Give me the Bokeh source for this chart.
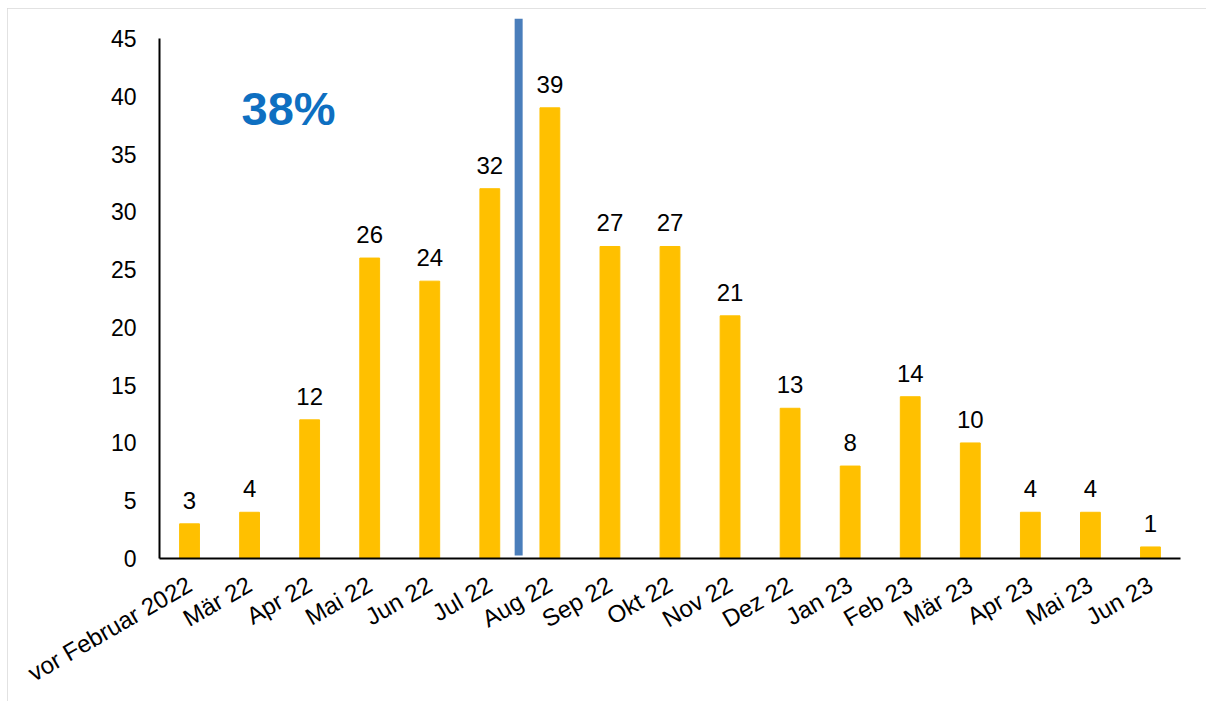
from bokeh.plotting import figure
from bokeh.models import ColumnDataSource, LabelSet, FactorRange, Range1d, SingleIntervalTicker
from bokeh.embed import file_html
from bokeh.resources import INLINE
from bokeh.core.properties import value
import math

categories = ["vor Februar 2022", "Mär 22", "Apr 22", "Mai 22", "Jun 22", "Jul 22",
              "Aug 22", "Sep 22", "Okt 22", "Nov 22", "Dez 22", "Jan 23", "Feb 23",
              "Mär 23", "Apr 23", "Mai 23", "Jun 23"]
counts = [3, 4, 12, 26, 24, 32, 39, 27, 27, 21, 13, 8, 14, 10, 4, 4, 1]
annotation_text = "38%"
split_after = "Jul 22"

FONT = "Liberation Sans"

src = ColumnDataSource(dict(cat=categories, val=counts, lab=[str(v) for v in counts]))

p = figure(x_range=FactorRange(*categories, range_padding=0),
           y_range=Range1d(0, 46.73),
           width=1199, height=693, output_backend="svg", toolbar_location=None,
           min_border_left=152, min_border_right=26, min_border_top=10, min_border_bottom=143)
p.styles = {"margin-left": "7px", "margin-top": "8px",
            "outline": "2px solid #d9d9d9", "outline-offset": "-2px"}
p.outline_line_color = None
p.xgrid.grid_line_color = None
p.ygrid.grid_line_color = None
p.background_fill_color = "white"
p.border_fill_color = "white"

p.vbar(x="cat", top="val", width=0.33, source=src, color="#ffc000")

labels = LabelSet(x="cat", y="val", text="lab", source=src, text_align="center",
                  text_baseline="alphabetic", y_offset=15, text_font_size="24px",
                  text_font=value(FONT), text_color="black")
p.add_layout(labels)

# separator line between Jul 22 and Aug 22
p.segment(x0=[(split_after, 0.48)], x1=[(split_after, 0.48)], y0=[0.25], y1=[46.73],
          line_color="#4a7ebb", line_width=8)

p.text(x=[("Mär 22", 0.65)], y=[38.9], text=[annotation_text], text_align="center",
       text_baseline="middle", text_font_size="47px", text_font_style="bold",
       text_font=value(FONT), text_color="#0e6fc1")

ya = p.yaxis[0]
ya.bounds = (0, 45)
ya.ticker = SingleIntervalTicker(interval=5)
ya.major_tick_line_color = None
ya.minor_tick_line_color = None
ya.major_tick_out = 0
ya.major_tick_in = 0
ya.major_label_standoff = 19
ya.axis_line_width = 2
ya.axis_line_color = "black"
ya.major_label_text_font_size = "23px"
ya.major_label_text_font = FONT
ya.major_label_text_color = "black"

xa = p.xaxis[0]
xa.major_tick_line_color = None
xa.minor_tick_line_color = None
xa.major_tick_out = 0
xa.major_tick_in = 0
xa.major_label_standoff = 24
xa.axis_line_width = 2
xa.axis_line_color = "black"
xa.major_label_orientation = math.pi / 6
xa.major_label_text_font_size = "24px"
xa.major_label_text_font = FONT
xa.major_label_text_color = "black"

open("out.html", "w").write(file_html(p, INLINE))
